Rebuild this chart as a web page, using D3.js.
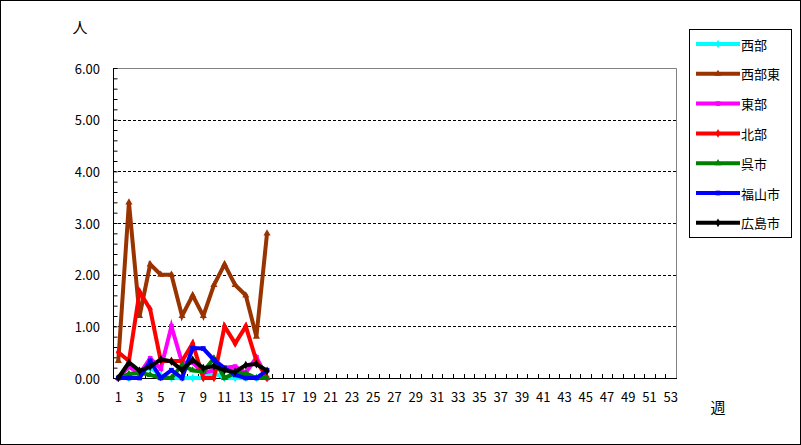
<html>
<head>
    <meta charset="utf-8" />
    <script src="https://d3js.org/d3.v7.min.js"></script>
    <style>
        body { margin: 0; background: #fff; }
        text { font-family: "Noto Sans CJK JP", "DejaVu Sans", sans-serif; font-size: 13px; fill: #000; }
    </style>
</head>
<body>
    <svg id="chart" width="801" height="445"></svg>
    <script>
        // weeks on x axis, labels only on odd weeks
        const weeks = d3.range(1, 54)
        const yTicks = [0, 1, 2, 3, 4, 5, 6]
        const seriesNames = ["西部", "西部東", "東部", "北部", "呉市", "福山市", "広島市"]
        const seriesColors = ["#00FFFF", "#993300", "#FF00FF", "#FF0000", "#008000", "#0000FF", "#000000"]
        const seriesSymbols = [d3.symbolDiamond, d3.symbolTriangle, d3.symbolSquare, d3.symbolDiamond, d3.symbolTriangle, d3.symbolSquare, d3.symbolDiamond]

        const seibu = [0, 0, 0.1, 0.2, 0.05, 0, 0, 0, 0, 0.1, 0, 0, 0, 0, 0]
        const seibuHigashi = [0.33, 3.4, 1.2, 2.2, 2.0, 2.0, 1.2, 1.6, 1.2, 1.8, 2.2, 1.8, 1.6, 0.8, 2.8]
        const toubu = [0, 0.22, 0.08, 0.38, 0.18, 1.0, 0.3, 0.3, 0.1, 0.15, 0.2, 0.22, 0.1, 0.4, 0]
        const hokubu = [0.5, 0.33, 1.67, 1.33, 0.33, 0.33, 0.33, 0.67, 0, 0, 1.0, 0.67, 1.0, 0.33, 0]
        const kure = [0, 0.08, 0.1, 0.06, 0, 0, 0.25, 0.15, 0.12, 0.38, 0, 0.1, 0.09, 0, 0]
        const fukuyama = [0, 0, 0, 0.33, 0, 0.15, 0, 0.58, 0.57, 0.35, 0.19, 0.06, 0, 0, 0.15]
        const hiroshima = [0, 0.3, 0.14, 0.22, 0.36, 0.32, 0.15, 0.35, 0.19, 0.23, 0.15, 0.12, 0.25, 0.27, 0.14]
        const seriesValues = [seibu, seibuHigashi, toubu, hokubu, kure, fukuyama, hiroshima]

        const svg = d3.select("svg#chart")
        const plot = { left: 113, right: 676, top: 68, bottom: 378 }

        svg.append("rect").attr("x", 0.5).attr("y", 0.5).attr("width", 800).attr("height", 444)
            .attr("fill", "#fff").attr("stroke", "#000")

        const x = d3.scaleBand().domain(weeks).range([plot.left, plot.right]).padding(0)
        const y = d3.scaleLinear().domain([0, 6]).range([plot.bottom, plot.top])

        // grid lines
        svg.append("g").selectAll("line").data(yTicks.slice(1, -1))
            .join("line")
            .attr("x1", plot.left).attr("x2", plot.right)
            .attr("y1", d => Math.round(y(d)) + 0.5).attr("y2", d => Math.round(y(d)) + 0.5)
            .attr("stroke", "#000").attr("stroke-dasharray", "3,2")

        // plot border: top/right gray
        svg.append("path")
            .attr("d", `M${plot.left},${plot.top + 0.5}H${plot.right + 0.5}V${plot.bottom}`)
            .attr("fill", "none").attr("stroke", "#808080")

        // y axis, minor ticks inward
        const yAxis = d3.axisLeft(y).tickValues(d3.range(0, 31).map(d => d / 5))
            .tickSize(-4).tickFormat("")
        const yg = svg.append("g").attr("transform", `translate(${plot.left + 0.5},0)`).call(yAxis)
        yg.select(".domain").remove()
        yg.selectAll(".tick line").attr("stroke", "#000")
        svg.append("line").attr("x1", plot.left + 0.5).attr("x2", plot.left + 0.5)
            .attr("y1", plot.top).attr("y2", plot.bottom).attr("stroke", "#000")

        svg.append("g").selectAll("text").data(yTicks)
            .join("text")
            .attr("x", 100).attr("y", d => y(d))
            .attr("text-anchor", "end").attr("dominant-baseline", "central")
            .text(d => d.toFixed(2))

        // x axis ticks at category boundaries
        svg.append("g").selectAll("line").data(weeks.slice(1))
            .join("line")
            .attr("x1", d => Math.round(x(d)) + 0.5).attr("x2", d => Math.round(x(d)) + 0.5)
            .attr("y1", plot.bottom).attr("y2", plot.bottom - 4)
            .attr("stroke", "#000")
        svg.append("line").attr("x1", plot.left).attr("x2", plot.right + 1)
            .attr("y1", plot.bottom + 0.5).attr("y2", plot.bottom + 0.5).attr("stroke", "#000")

        svg.append("g").selectAll("text").data(weeks.filter(d => d % 2 == 1))
            .join("text")
            .attr("x", d => x(d) + x.bandwidth() / 2).attr("y", 396)
            .attr("text-anchor", "middle").attr("dominant-baseline", "central")
            .text(d => d)

        svg.append("text").attr("x", 80).attr("y", 26)
            .attr("text-anchor", "middle").attr("dominant-baseline", "central")
            .style("font-size", "15px").text("人")
        svg.append("text").attr("x", 718).attr("y", 406)
            .attr("text-anchor", "middle").attr("dominant-baseline", "central")
            .style("font-size", "15px").text("週")

        // series lines
        const line = d3.line()
            .x((d, i) => x(weeks[i]) + x.bandwidth() / 2)
            .y(d => y(d))

        const series = svg.append("g").selectAll("g.series").data(seriesValues)
            .join("g").attr("class", "series")
        series.append("path")
            .attr("d", d => line(d))
            .attr("fill", "none")
            .attr("stroke", (d, i) => seriesColors[i])
            .attr("stroke-width", 4)
            .attr("stroke-linejoin", "miter")
        series.each(function (vals, si) {
            d3.select(this).selectAll("path.mark").data(vals)
                .join("path").attr("class", "mark")
                .attr("transform", (d, i) => `translate(${x(weeks[i]) + x.bandwidth() / 2},${y(d)})`)
                .attr("d", d3.symbol().type(seriesSymbols[si]).size(22))
                .attr("fill", seriesColors[si])
        })

        // legend
        const legend = svg.append("g")
        legend.append("rect").attr("x", 689.5).attr("y", 29.5).attr("width", 102).attr("height", 208)
            .attr("fill", "#fff").attr("stroke", "#000")
        const item = legend.selectAll("g.item").data(seriesNames)
            .join("g").attr("class", "item")
            .attr("transform", (d, i) => `translate(0,${44 + i * 29.8})`)
        item.append("line").attr("x1", 696).attr("x2", 740).attr("y1", 0).attr("y2", 0)
            .attr("stroke", (d, i) => seriesColors[i]).attr("stroke-width", 4)
        item.append("path").attr("transform", "translate(718,0)")
            .attr("d", (d, i) => d3.symbol().type(seriesSymbols[i]).size(22)())
            .attr("fill", (d, i) => seriesColors[i])
        item.append("text").attr("x", 741).attr("y", 0)
            .attr("dominant-baseline", "central").text(d => d)
    </script>
</body>
</html>
